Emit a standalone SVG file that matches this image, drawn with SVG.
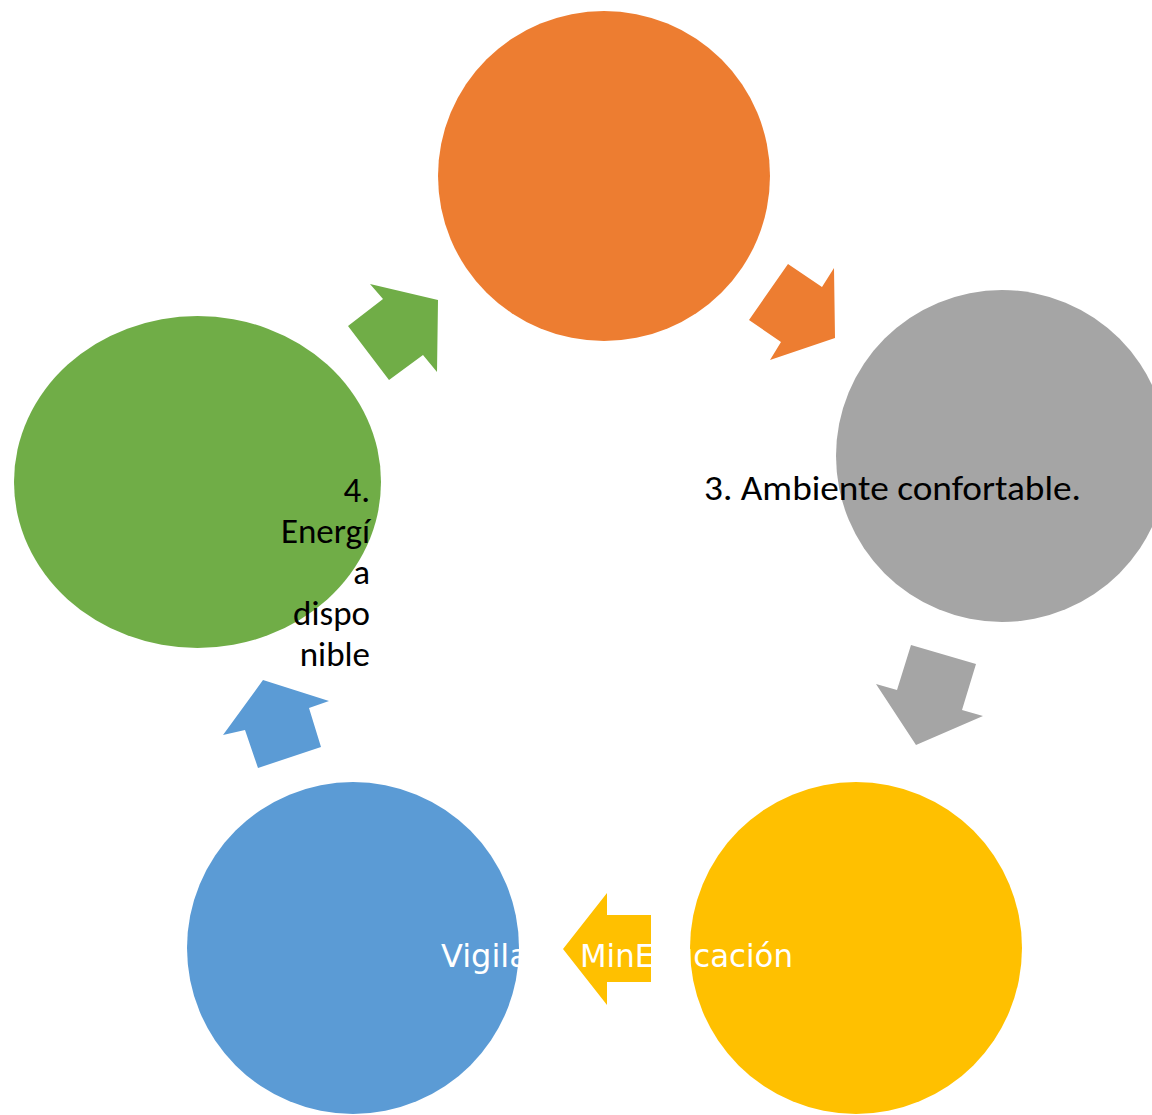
<svg xmlns="http://www.w3.org/2000/svg" width="1152" height="1115" viewBox="0 0 1152 1115">
  <style>
    .dark { font-family: Carlito, Calibri, "Open Sans", sans-serif; font-size: 35px; fill: #000000; }
    .light { font-family: "DejaVu Sans", Verdana, sans-serif; font-size: 32px; fill: #FFFFFF; }
  </style>
  <rect x="0" y="0" width="1152" height="1115" fill="#FFFFFF"/>
  <g id="node-orange">
    <ellipse cx="604" cy="176" rx="166" ry="165" fill="#ED7D31"/>
  </g>
  <g id="node-gray">
    <circle cx="1002" cy="456" r="166" fill="#A5A5A5"/>
  </g>
  <g id="node-yellow">
    <circle cx="856" cy="948" r="166" fill="#FFC000"/>
  </g>
  <g id="node-blue">
    <circle cx="353" cy="948" r="166" fill="#5B9BD5"/>
  </g>
  <g id="node-green">
    <ellipse cx="197.5" cy="482" rx="183.5" ry="166" fill="#70AD47"/>
  </g>
  <g id="connectors">
    <polygon points="788,264 822,287 834,268 835,338 770,360 781,342 749,320" fill="#ED7D31"/>
    <polygon points="911,645 976,664 962,710 983,716 916,745 876,684 897,690" fill="#A5A5A5"/>
    <polygon points="651,915 651,982 607,982 607,1005 563,949 607,893 607,915" fill="#FFC000"/>
    <polygon points="258,768 321,747 309,708 329,701 263,680 223,735 245,730" fill="#5B9BD5"/>
    <polygon points="389,380 423,355 437,372 438,300 370,284 383,299 348,326" fill="#70AD47"/>
  </g>
  <g id="labels">
    <text class="dark" x="704" y="500" textLength="377" lengthAdjust="spacingAndGlyphs">3. Ambiente confortable.</text>
    <text class="dark" text-anchor="end"><tspan x="370" y="502">4.</tspan><tspan x="370" y="543">Energí</tspan><tspan x="370" y="584">a</tspan><tspan x="370" y="625">dispo</tspan><tspan x="370" y="666">nible</tspan></text>
    <text class="light" y="967"><tspan x="441">Vigila</tspan><tspan x="580" textLength="213" lengthAdjust="spacingAndGlyphs">MinEducación</tspan></text>
  </g>
</svg>
